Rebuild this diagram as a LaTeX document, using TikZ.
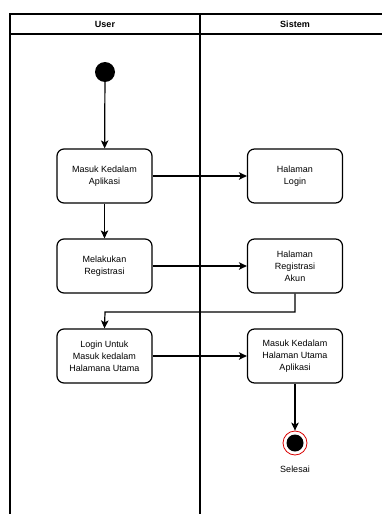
\documentclass[tikz,border=0pt]{standalone}
\usepackage{fontspec}
\setmainfont{Liberation Sans}
\usetikzlibrary{arrows.meta}
\begin{document}
\begin{tikzpicture}[x=1pt,y=-1pt,
  frameline/.style={line width=1.5pt,black},
  actbox/.style={draw,line width=1.2pt,rounded corners=7pt,minimum width=95pt,minimum height=54pt,align=center,font=\fontsize{9}{12.2}\selectfont,inner sep=1pt},
  flow/.style={line width=1.2pt,-{Stealth[length=8pt,width=7.5pt,inset=2pt]}},
  hdr/.style={font=\bfseries\fontsize{9}{11}\selectfont}]
\useasboundingbox (0,0) rectangle (382,514);
% swimlane frame
\draw[frameline] (10,514) -- (10,14) -- (382,14);
\draw[frameline] (10,34) -- (382,34);
\draw[frameline] (200,14) -- (200,514);
\node[hdr] (huser) at (105,24.5) {User};
\node[hdr] (hsis) at (295,24.5) {Sistem};
% nodes
\node[circle,fill=black,minimum size=20pt,inner sep=0pt] (start) at (105,72) {};
\node[actbox] (b1) at (104.5,176) {Masuk Kedalam\\Aplikasi};
\node[actbox] (b2) at (295,176) {Halaman\\Login};
\node[actbox] (b3) at (104.5,266) {Melakukan\\Registrasi};
\node[actbox] (b4) at (295,266) {Halaman\\Registrasi\\Akun};
\node[actbox] (b5) at (104.5,356) {Login Untuk\\Masuk kedalam\\Halamana Utama};
\node[actbox] (b6) at (295,356) {Masuk Kedalam\\Halaman Utama\\Aplikasi};
\node[circle,draw=red!85!black,line width=0.8pt,fill=white,minimum size=24pt,inner sep=0pt] (end) at (295,443) {};
\node[circle,fill=black,minimum size=17pt,inner sep=0pt] (endin) at (end) {};
\node[font=\fontsize{9}{11}\selectfont] (sel) at (295,469) {Selesai};
% connectors
\draw[flow] (start) -- (b1);
\draw[flow] (b1) -- (b2);
\draw[flow] (b1) -- (b3);
\draw[flow] (b3) -- (b4);
\draw[flow] (b4.south) |- (105,312) -- (b5.north);
\draw[flow] (b5) -- (b6);
\draw[flow] (b6) -- (end);
\end{tikzpicture}
\end{document}
